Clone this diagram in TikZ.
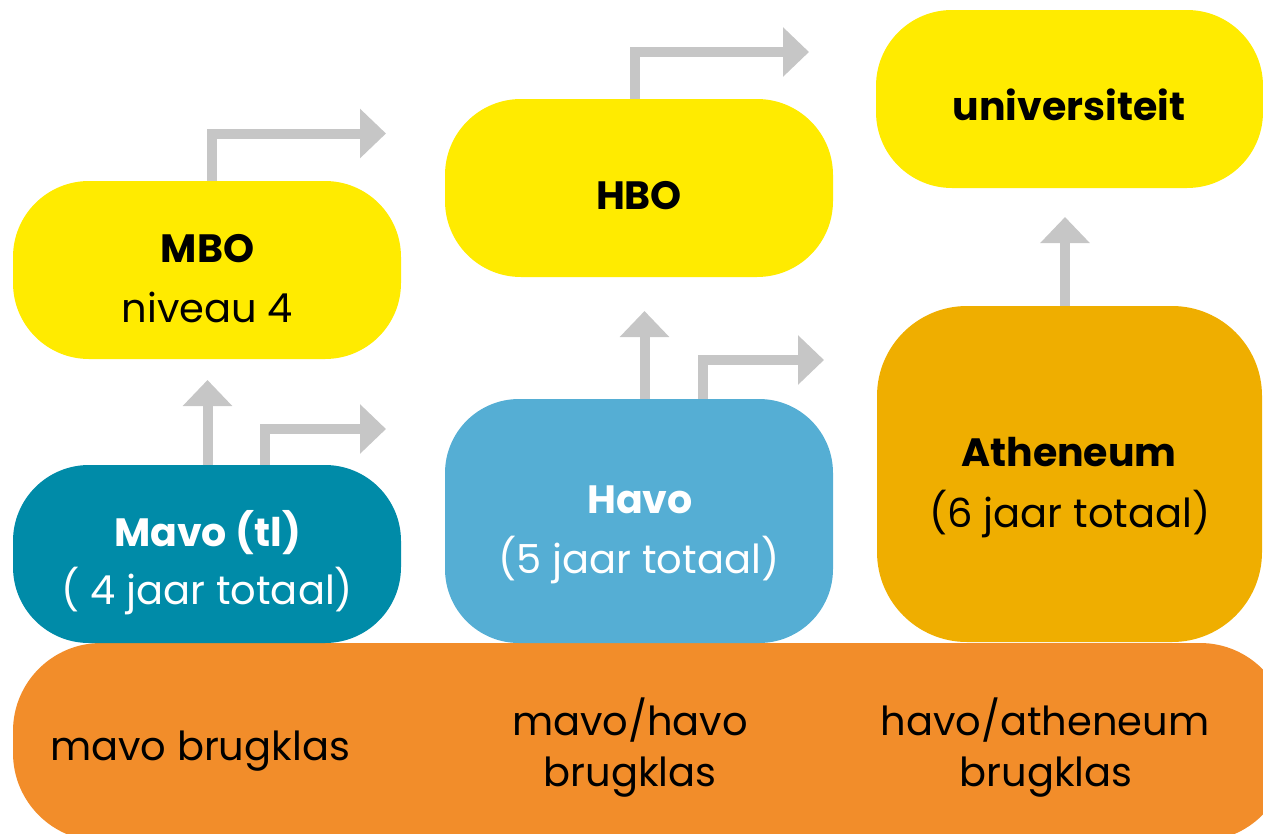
\documentclass[tikz,border=0pt]{standalone}
\usepackage{fontspec}
\setmainfont{Poppins}
\usetikzlibrary{arrows.meta}
\definecolor{yel}{HTML}{FFEB00}
\definecolor{tealbox}{HTML}{008BA8}
\definecolor{skybox}{HTML}{55AED4}
\definecolor{goldbox}{HTML}{EFAE00}
\definecolor{orngbox}{HTML}{F28D2A}
\definecolor{arrgray}{HTML}{C6C6C6}
\tikzset{
  box/.style={rectangle, inner sep=0pt, outer sep=0pt, rounded corners=76pt, anchor=north west},
  lbl/.style={anchor=base, inner sep=0pt, font=\fontsize{40}{48}\selectfont},
  blbl/.style={anchor=base, inner sep=0pt, font=\fontsize{39.5}{48}\selectfont\bfseries},
  flow/.style={draw=arrgray, line width=10pt, line join=miter, line cap=butt, -{Triangle[length=26pt,width=48pt]}},
}
\begin{document}
\begin{tikzpicture}[x=1pt,y=-1pt]
\useasboundingbox (0,0) rectangle (1263,833);
\clip (0,0) rectangle (1263,833);
% base
\node[box, fill=orngbox, rounded corners=88pt, minimum width=1275pt, minimum height=198pt] (base) at (13,643) {};
% boxes
\node[box, fill=yel, minimum width=388pt, minimum height=178pt] (mbo) at (13,181) {};
\node[box, fill=yel, minimum width=388pt, minimum height=178pt] (hbo) at (445,99) {};
\node[box, fill=yel, minimum width=387pt, minimum height=178pt] (uni) at (876,10) {};
\node[box, fill=tealbox, minimum width=388pt, minimum height=178pt] (mavo) at (13,465) {};
\node[box, fill=skybox, rounded corners=74pt, minimum width=388pt, minimum height=244pt] (havo) at (445,399) {};
\node[box, fill=goldbox, rounded corners=90pt, minimum width=385pt, minimum height=336pt] (ath) at (877,306) {};
% arrow coordinates
\coordinate (c1) at (207.5,380);
\coordinate (s2) at (265,0);   \coordinate (c2) at (386,429);
\coordinate (s3) at (212,0);   \coordinate (c3) at (386,133.5);
\coordinate (c4) at (644.5,311);
\coordinate (s5) at (703,0);   \coordinate (c5) at (824,360);
\coordinate (s6) at (635,0);   \coordinate (c6) at (809,52);
\coordinate (c7) at (1065,217);
% arrows
\draw[flow] (c1 |- mavo.north) -- (c1);
\draw[flow] (s2 |- mavo.north) |- (c2);
\draw[flow] (s3 |- mbo.north) |- (c3);
\draw[flow] (c4 |- havo.north) -- (c4);
\draw[flow] (s5 |- havo.north) |- (c5);
\draw[flow] (s6 |- hbo.north) |- (c6);
\draw[flow] (c7 |- ath.north) -- (c7);
% texts
\node[blbl] (tmbo) at (207.5,262) {MBO};
\node[lbl] (tniv) at (207.5,322) {niveau 4};
\node[blbl] (thbo) at (639,209) {HBO};
\node[blbl] (tuni) at (1069,120) {universiteit};
\node[blbl, text=white] (tmavo) at (207.5,546) {Mavo (tl)};
\node[lbl, text=white] (tmavo2) at (207.5,604) {( 4 jaar totaal)};
\node[blbl, text=white] (thavo) at (640,513) {Havo};
\node[lbl, text=white] (thavo2) at (639,573) {(5 jaar totaal)};
\node[blbl] (tath) at (1069,466) {Atheneum};
\node[lbl] (tath2) at (1070,527) {(6 jaar totaal)};
\node[lbl] (tb1) at (200,760) {mavo brugklas};
\node[lbl] (tb2) at (630,735) {mavo/havo};
\node[lbl] (tb3) at (630,786) {brugklas};
\node[lbl] (tb4) at (1045,735) {havo/atheneum};
\node[lbl] (tb5) at (1046,786) {brugklas};
\end{tikzpicture}
\end{document}
